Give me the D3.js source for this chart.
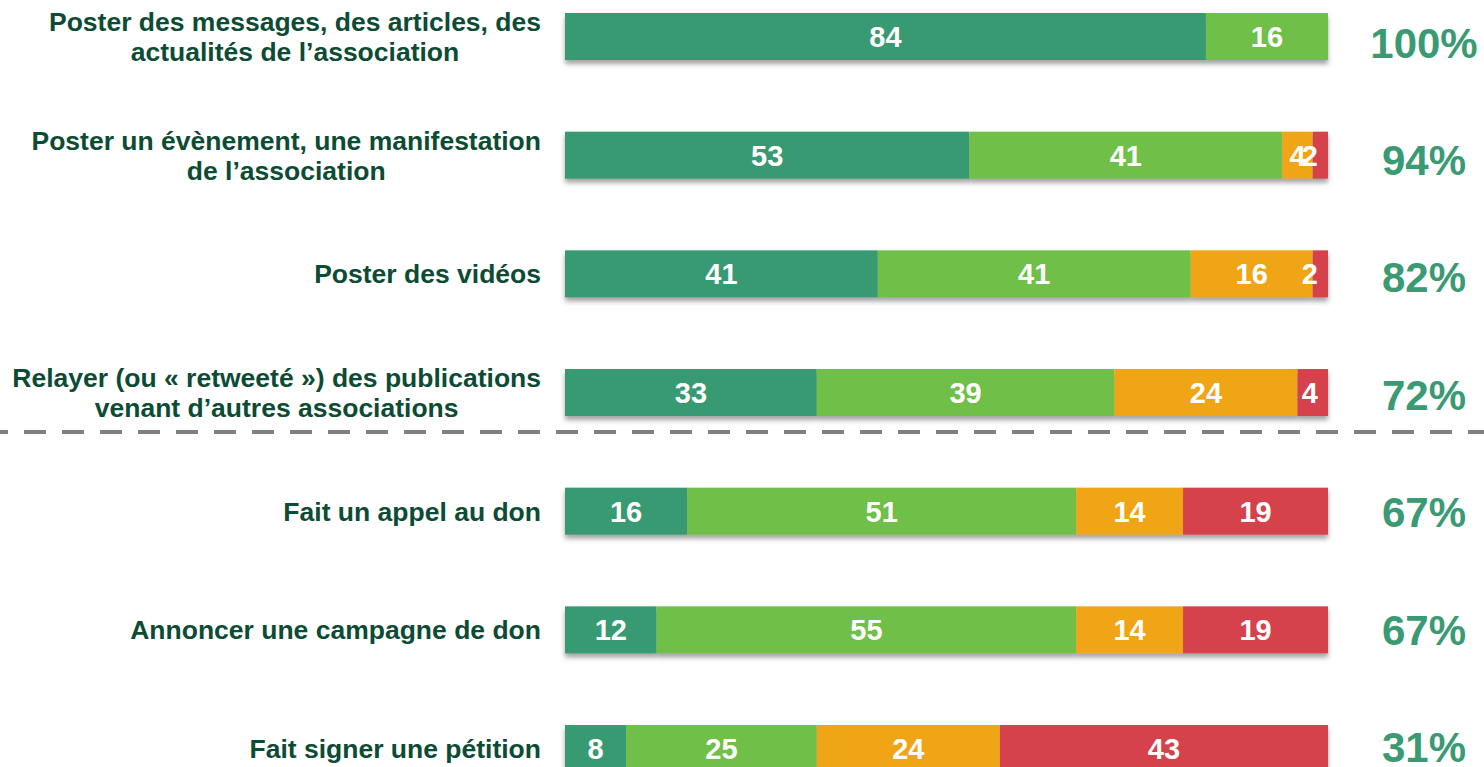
<!DOCTYPE html>
<html>
<head>
<meta charset="utf-8">
<script src="https://cdn.jsdelivr.net/npm/d3@7"></script>
<style>
  html, body { margin: 0; padding: 0; background: #fff; }
  svg { display: block; font-family: "Liberation Sans", Arial, sans-serif; font-weight: bold; }
</style>
</head>
<body>
<div id="app"></div>
<script>
// data
const categories = [
  ['Poster des messages, des articles, des', 'actualités de l’association'],
  ['Poster un évènement, une manifestation', 'de l’association'],
  ['Poster des vidéos '],
  ['Relayer (ou « retweeté ») des publications', 'venant d’autres associations'],
  ['Fait un appel au don'],
  ['Annoncer une campagne de don'],
  ['Fait signer une pétition']
];
const seriesA = [84, 53, 41, 33, 16, 12, 8];
const seriesB = [16, 41, 41, 39, 51, 55, 25];
const seriesC = [0, 4, 16, 24, 14, 14, 24];
const seriesD = [0, 2, 2, 4, 19, 19, 43];
const totals = ['100%', '94%', '82%', '72%', '67%', '67%', '31%'];

const colors = ['#399a72', '#70bf4a', '#f0a514', '#d6434b'];

const width = 1484;
const height = 767;
const step = 118.67;
const barH = 47;
const firstTop = 13;
const pad = 1 - barH / step;

const rows = categories.map((c, i) => ({
  label: c,
  values: [seriesA[i], seriesB[i], seriesC[i], seriesD[i]],
  total: totals[i],
  idx: i
}));

const svg = d3.select('#app')
  .append('svg')
  .attr('width', width)
  .attr('height', height);

const defs = svg.append('defs');
const filter = defs.append('filter')
  .attr('id', 'shadow')
  .attr('x', '-5%').attr('y', '-20%')
  .attr('width', '110%').attr('height', '160%');
filter.append('feDropShadow')
  .attr('dx', 0).attr('dy', 4)
  .attr('stdDeviation', 2.5)
  .attr('flood-color', '#555')
  .attr('flood-opacity', 0.55);

// scales
const x = d3.scaleLinear().domain([0, 100]).range([565, 1328]);
const yStart = firstTop - (step - barH) / 2;
const y = d3.scaleBand()
  .domain(rows.map(r => r.idx))
  .range([yStart, yStart + step * rows.length])
  .paddingInner(pad)
  .paddingOuter(pad / 2);
// the percent column sits on a slightly tighter grid than the bars
const yPct = d3.scaleLinear().domain([0, rows.length - 1]).range([57.6, 762]);

// bars
const rowG = svg.selectAll('g.row')
  .data(rows)
  .enter()
  .append('g')
  .attr('class', 'row');

rowG.each(function(r) {
  const g = d3.select(this);
  let acc = 0;
  const segs = r.values.map((v, k) => {
    const s = { v, k, x0: acc, x1: acc + v };
    acc += v;
    return s;
  }).filter(s => s.v > 0);

  const barG = g.append('g').attr('filter', 'url(#shadow)');
  barG.selectAll('rect')
    .data(segs)
    .enter()
    .append('rect')
    .attr('x', s => x(s.x0))
    .attr('y', y(r.idx))
    .attr('width', s => x(s.x1) - x(s.x0))
    .attr('height', y.bandwidth())
    .attr('fill', s => colors[s.k]);

  const vals = g.selectAll('text.val')
    .data(segs)
    .enter()
    .append('text')
    .attr('class', 'val')
    .attr('y', y(r.idx) + y.bandwidth() / 2)
    .attr('dy', '0.36em')
    .attr('text-anchor', 'middle')
    .attr('fill', '#fff')
    .attr('font-size', 29)
    .text(s => s.v);
  // keep small labels from running past the end of the bar
  vals.attr('x', function(s) {
    const w = this.getComputedTextLength();
    const c = (x(s.x0) + x(s.x1)) / 2;
    return Math.min(c, x(100) - 10 - w / 2);
  });

  // category label, lines centered in a right-aligned block
  const lab = g.append('text')
    .attr('font-size', 26.5)
    .attr('fill', '#0c4b34')
    .attr('text-anchor', 'middle');
  const lh = 30;
  const cy = y(r.idx) + y.bandwidth() / 2;
  const n = r.label.length;
  const spans = r.label.map((t, j) =>
    lab.append('tspan')
      .attr('y', cy - (n - 1) * lh / 2 + j * lh)
      .attr('dy', '0.36em')
      .text(t));
  let maxW = 0;
  spans.forEach(s => { maxW = Math.max(maxW, s.node().getComputedTextLength()); });
  spans.forEach(s => s.attr('x', 541 - maxW / 2));

  // total
  g.append('text')
    .attr('x', 1424)
    .attr('y', yPct(r.idx))
    .attr('text-anchor', 'middle')
    .attr('font-size', 42)
    .attr('fill', '#3a9a73')
    .text(r.total);
});

// separator
svg.append('line')
  .attr('x1', 0)
  .attr('x2', width)
  .attr('y1', y(3) + y.bandwidth() + 16)
  .attr('y2', y(3) + y.bandwidth() + 16)
  .attr('stroke', '#808080')
  .attr('stroke-width', 4)
  .attr('stroke-dasharray', '22,16')
  .attr('stroke-dashoffset', 14);
</script>
</body>
</html>
